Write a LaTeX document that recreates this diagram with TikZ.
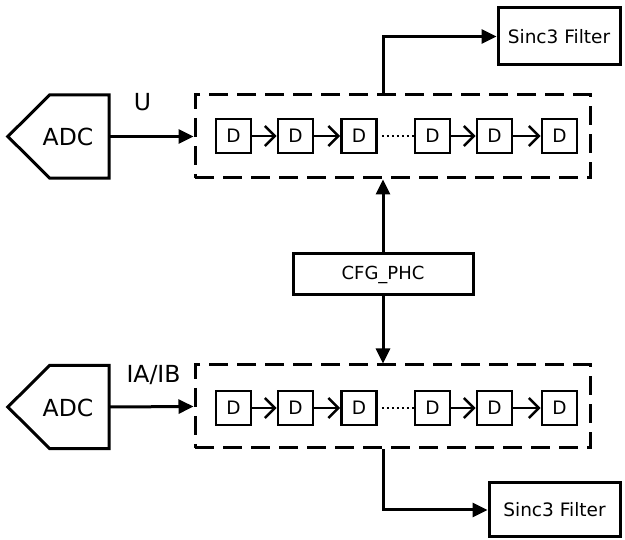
\documentclass[tikz,border=0pt]{standalone}
\usepackage{fontspec}
\setmainfont{DejaVu Sans}
\usetikzlibrary{arrows.meta,calc}
\tikzset{
  ln/.style={line width=3pt},
  arr/.style={ln,-{Triangle[length=15pt,width=14pt]}},
  dbox/.style={draw,line width=2.6pt,minimum width=35pt,minimum height=34pt,inner sep=0pt,font=\fontsize{18.5}{18.5}\selectfont},
  darr/.style={line width=2.6pt,-{Straight Barb[length=10pt,width=20pt,line width=2.6pt]}},
  dashbox/.style={draw,line width=3pt,dash pattern=on 19pt off 9pt,minimum width=395pt,minimum height=83pt,inner sep=0pt},
  plainbox/.style={draw,line width=3pt,inner sep=0pt},
  adcbox/.style={minimum width=101pt,minimum height=83pt,inner sep=0pt},
  lbl/.style={font=\fontsize{23.5}{23.5}\selectfont,inner sep=0pt},
  dots/.style={line width=2pt,dash pattern=on 2pt off 3pt},
}
\begin{document}
\begin{tikzpicture}[x=1pt,y=-1pt]
\useasboundingbox (0,0) rectangle (625,540);
% top row
\node[adcbox] (adc1) at (58.5,136.5) {};
\draw[ln,line join=miter] (adc1.north east) -- (adc1.south east) -- ($(adc1.south west)+(42,0)$) -- (adc1.west) -- ($(adc1.north west)+(42,0)$) -- cycle;
\node[lbl] (adct1) at (68,137) {ADC};
\node[dashbox] (box1) at (392.5,136.5) {};
\draw[arr] (adc1.east) -- (box1.west);
\node[lbl] (u) at (142.5,102.5) {U};
\node[dbox] (a1) at (233.5,136) {D};
\node[dbox] (a2) at (295.5,136) {D};
\node[dbox] (a3) at (359,136) {D};
\node[dbox] (a4) at (432.5,136) {D};
\node[dbox] (a5) at (494.5,136) {D};
\node[dbox] (a6) at (559.5,136) {D};
\draw[darr] (a1) -- (a2);
\draw[darr] (a2) -- (a3);
\draw[dots] ([xshift=4pt]a3.east) -- (a4.west);
\draw[darr] (a4) -- (a5);
\draw[darr] (a5) -- (a6);
\node[plainbox,minimum width=122pt,minimum height=57pt,font=\fontsize{18.5}{18.5}\selectfont] (sinc1) at (559,36.5) {Sinc3 Filter};
% middle
\node[plainbox,minimum width=180pt,minimum height=41pt,font=\fontsize{18}{18}\selectfont] (cfg) at (383,274.5) {CFG\_PHC};
\draw[arr] (box1.north -| cfg) |- (sinc1.west);
% bottom row
\node[adcbox] (adc2) at (58.5,407) {};
\draw[ln,line join=miter] (adc2.north east) -- (adc2.south east) -- ($(adc2.south west)+(42,0)$) -- (adc2.west) -- ($(adc2.north west)+(42,0)$) -- cycle;
\node[lbl] (adct2) at (68,407.5) {ADC};
\node[dashbox] (box2) at (392.5,406.5) {};
\draw[arr] (adc2.east) -- (box2.west);
\node[lbl] (iaib) at (153.5,375) {IA/IB};
\node[dbox] (b1) at (233.5,408) {D};
\node[dbox] (b2) at (295.5,408) {D};
\node[dbox] (b3) at (359,408) {D};
\node[dbox] (b4) at (432.5,408) {D};
\node[dbox] (b5) at (494.5,408) {D};
\node[dbox] (b6) at (559.5,408) {D};
\draw[darr] (b1) -- (b2);
\draw[darr] (b2) -- (b3);
\draw[dots] ([xshift=4pt]b3.east) -- (b4.west);
\draw[darr] (b4) -- (b5);
\draw[darr] (b5) -- (b6);
\node[plainbox,minimum width=131pt,minimum height=54pt,font=\fontsize{18.5}{18.5}\selectfont] (sinc2) at (554.5,510) {Sinc3 Filter};
\draw[arr] (cfg.north) -- (cfg.north |- box1.south);
\draw[arr] (cfg.south) -- (cfg.south |- box2.north);
\draw[arr] (box2.south -| cfg) |- (sinc2.west);
\end{tikzpicture}
\end{document}
